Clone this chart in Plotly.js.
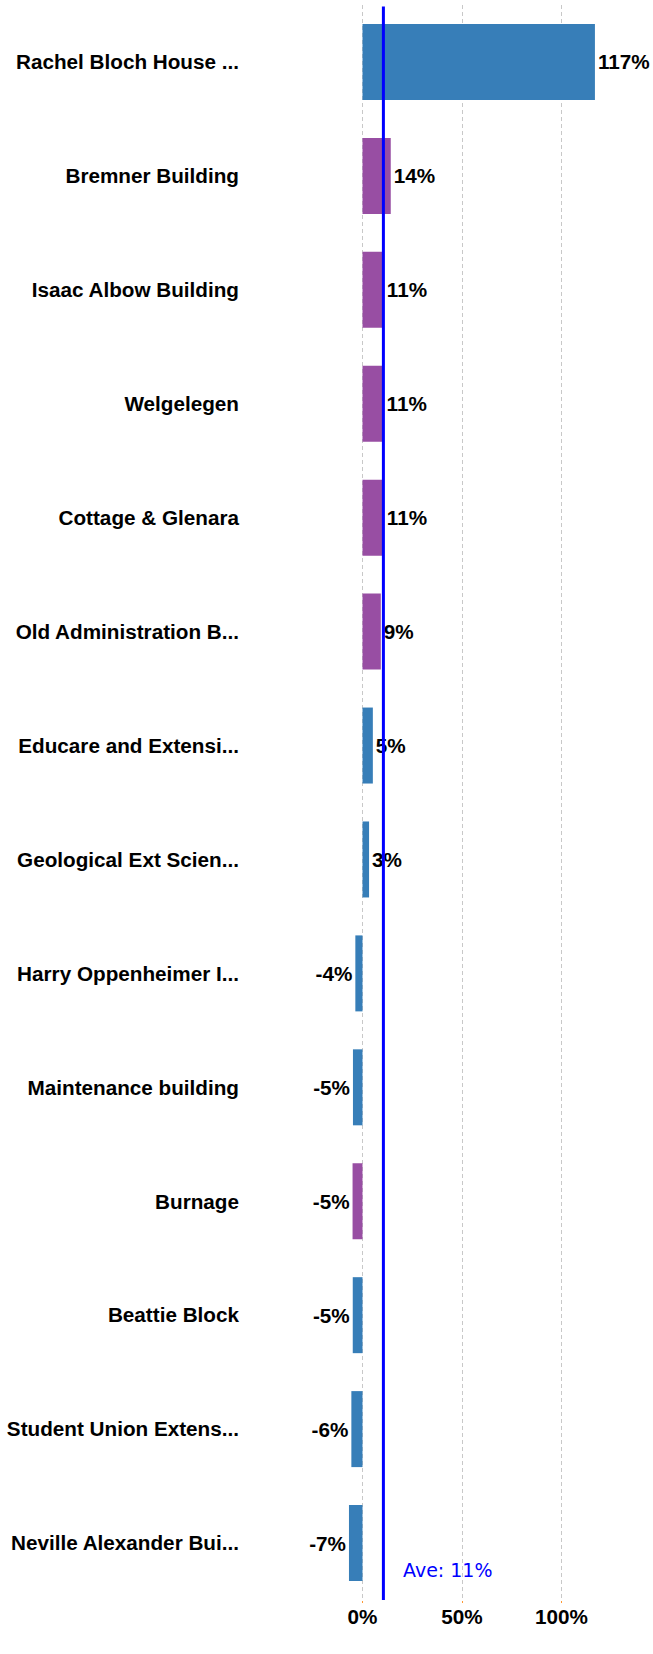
<!DOCTYPE html>
<html>
<head>
<meta charset="utf-8">
<script src="https://cdn.plot.ly/plotly-3.0.1.min.js"></script>
<style>html,body{margin:0;padding:0;background:#fff;}#chart{width:653px;height:1654px;}</style>
</head>
<body>
<div id="chart"></div>
<script>
const categories = [
  "Rachel Bloch House ...",
  "Bremner Building",
  "Isaac Albow Building",
  "Welgelegen",
  "Cottage & Glenara",
  "Old Administration B...",
  "Educare and Extensi...",
  "Geological Ext Scien...",
  "Harry Oppenheimer I...",
  "Maintenance building",
  "Burnage",
  "Beattie Block",
  "Student Union Extens...",
  "Neville Alexander Bui..."
];
const values = [116.8, 14.2, 10.7, 10.6, 10.7, 9.2, 5.2, 3.3, -3.6, -4.8, -5.0, -4.9, -5.6, -6.8];
const valueLabels = ["117%", "14%", "11%", "11%", "11%", "9%", "5%", "3%", "-4%", "-5%", "-5%", "-5%", "-6%", "-7%"];
const highlighted = [false, true, true, true, true, true, false, false, false, false, true, false, false, false];
const averageValue = 10.5;
const averageLabel = "Ave: 11%";
const tickValues = [0, 50, 100];
const tickLabels = ["0%", "50%", "100%"];

const BLUE = "#377eb8", PURPLE = "#984ea3";
const boldFont = {family: "Liberation Sans, Arial, sans-serif", size: 20.7, color: "#000", weight: "bold"};

const trace = {
  type: "bar",
  orientation: "h",
  x: values,
  y: categories,
  text: valueLabels,
  textposition: "outside",
  constraintext: "none",
  cliponaxis: false,
  textfont: boldFont,
  marker: {color: highlighted.map(h => h ? PURPLE : BLUE)},
  hoverinfo: "none"
};

const px0 = 362.5, pxPerUnit = 1.99, left = 250, right = 653;
const layout = {
  width: 653,
  height: 1654,
  margin: {l: left, r: 0, t: 5, b: 54},
  bargap: 0.333,
  showlegend: false,
  paper_bgcolor: "#fff",
  plot_bgcolor: "#fff",
  xaxis: {
    range: [(left - px0) / pxPerUnit, (right - px0) / pxPerUnit],
    tickvals: tickValues,
    ticktext: tickLabels,
    tickfont: boldFont,
    showgrid: true,
    gridcolor: "#c8c8c8",
    griddash: "4px,3px",
    gridwidth: 1,
    zeroline: false,
    showline: false,
    ticks: "outside",
    ticklen: 2,
    tickcolor: "#ff9933",
    ticklabelstandoff: -4,
    fixedrange: true
  },
  yaxis: {
    autorange: "reversed",
    tickfont: boldFont,
    showgrid: false,
    zeroline: false,
    showline: false,
    ticks: "",
    ticklabelstandoff: 10,
    automargin: false,
    fixedrange: true
  },
  shapes: [{
    type: "line", xref: "x", yref: "paper",
    x0: averageValue, x1: averageValue, y0: 0, y1: 0.999,
    line: {color: "#0000ff", width: 3}
  }],
  annotations: [{
    x: averageValue, xref: "x", y: 0.0188, yref: "paper",
    xanchor: "left", yanchor: "middle", xshift: 18,
    text: averageLabel, showarrow: false,
    font: {family: "Verdana, DejaVu Sans, sans-serif", size: 19, color: "#0000ff"}
  }]
};

Plotly.newPlot("chart", [trace], layout, {displayModeBar: false, staticPlot: true});
</script>
</body>
</html>
